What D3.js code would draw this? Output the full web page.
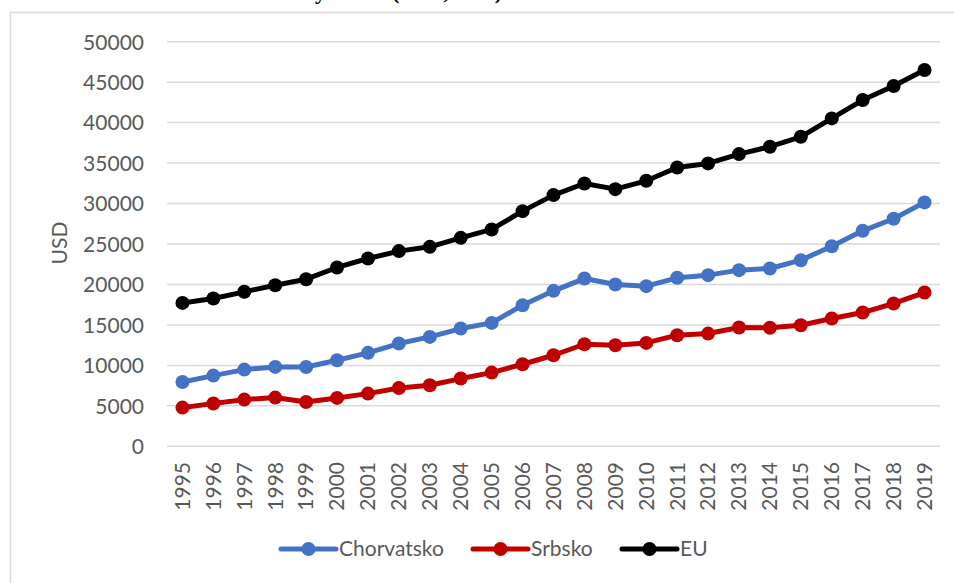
<!DOCTYPE html>
<html>
<head>
<meta charset="utf-8">
<script src="https://cdn.jsdelivr.net/npm/d3@7"></script>
<style>
  body { margin: 0; background: #fff; }
  svg { display: block; }
</style>
</head>
<body>
<div id="chart"></div>
<script>
// hodnoty odčítané z grafu (USD)
var years = ["1995","1996","1997","1998","1999","2000","2001","2002","2003","2004","2005","2006","2007",
             "2008","2009","2010","2011","2012","2013","2014","2015","2016","2017","2018","2019"];
var chorvatsko = [7950, 8740, 9480, 9810, 9800, 10640, 11550, 12700, 13520, 14550, 15250, 17440, 19210,
                  20730, 20000, 19790, 20820, 21150, 21770, 21970, 23000, 24730, 26630, 28120, 30140];
var srbsko = [4780, 5280, 5770, 6020, 5480, 5980, 6510, 7210, 7540, 8370, 9110, 10140, 11250,
              12610, 12490, 12780, 13730, 13930, 14680, 14650, 14960, 15790, 16530, 17650, 19000];
var eu = [17720, 18270, 19090, 19910, 20650, 22100, 23210, 24120, 24650, 25760, 26800, 29060, 31040,
          32480, 31780, 32810, 34460, 34960, 36110, 37020, 38250, 40520, 42790, 44520, 46500];
var yTicks = [0, 5000, 10000, 15000, 20000, 25000, 30000, 35000, 40000, 45000, 50000];

var series = [
  {name: "Chorvatsko", values: chorvatsko, color: "#4472C4"},
  {name: "Srbsko", values: srbsko, color: "#C00000"},
  {name: "EU", values: eu, color: "#000000"}
];

var width = 954, height = 583;
var margin = {left: 167, right: 14, top: 41.7, bottom: 137};

var svg = d3.select("#chart").append("svg")
    .attr("width", width)
    .attr("height", height)
    .attr("font-family", "Lato, 'Open Sans', sans-serif");

// zvyšok titulku nad grafom (orezaný)
svg.append("text")
    .attr("x", 502)
    .attr("y", -1)
    .attr("text-anchor", "end")
    .attr("font-family", "'Liberation Serif', serif")
    .attr("font-weight", "bold")
    .attr("font-size", 22)
    .text("HDP na obyvateľa (USD, PPP)");

// rám
svg.append("path")
    .attr("d", "M10.5," + height + "V12.5H" + width)
    .attr("fill", "none")
    .attr("stroke", "#D9D9D9")
    .attr("stroke-width", 1.5);

var x = d3.scaleBand()
    .domain(years)
    .range([margin.left, width - margin.right]);

var y = d3.scaleLinear()
    .domain([0, 50000])
    .range([height - margin.bottom + 0.3, margin.top]);

// mriežka
svg.append("g")
    .selectAll("line")
    .data(yTicks)
    .enter().append("line")
      .attr("x1", margin.left)
      .attr("x2", width - margin.right)
      .attr("y1", function(d) { return y(d); })
      .attr("y2", function(d) { return y(d); })
      .attr("stroke", "#D9D9D9")
      .attr("stroke-width", 1.5);

var yAxis = svg.append("g")
    .attr("transform", "translate(" + (margin.left - 23) + ",0)")
    .call(d3.axisLeft(y).tickValues(yTicks).tickSize(0).tickPadding(0).tickFormat(d3.format("d")));
yAxis.select(".domain").remove();
yAxis.selectAll("text")
    .attr("fill", "#595959")
    .attr("font-size", 21)
    .attr("font-family", "Lato, 'Open Sans', sans-serif")
    .attr("dy", "0.35em");

var xAxis = svg.append("g")
    .attr("transform", "translate(0," + (height - margin.bottom) + ")")
    .call(d3.axisBottom(x).tickSize(0).tickPadding(0));
xAxis.select(".domain").remove();
xAxis.selectAll("text")
    .attr("fill", "#595959")
    .attr("font-size", 21)
    .attr("font-family", "Lato, 'Open Sans', sans-serif")
    .attr("text-anchor", "end")
    .attr("transform", "translate(0,16) rotate(-90)")
    .attr("dx", 0)
    .attr("dy", "0.35em")
    .attr("y", 0)
    .attr("x", 0);

svg.append("text")
    .attr("transform", "translate(60,243) rotate(-90)")
    .attr("text-anchor", "middle")
    .attr("dy", "0.35em")
    .attr("fill", "#595959")
    .attr("font-size", 21)
    .text("USD");

var line = d3.line()
    .x(function(d, i) { return x(years[i]) + x.bandwidth() / 2; })
    .y(function(d) { return y(d); });

series.forEach(function(s) {
  var g = svg.append("g");
  g.append("path")
      .datum(s.values)
      .attr("d", line)
      .attr("fill", "none")
      .attr("stroke", s.color)
      .attr("stroke-width", 5)
      .attr("stroke-linejoin", "round");
  g.selectAll("circle")
      .data(s.values)
      .enter().append("circle")
        .attr("cx", function(d, i) { return x(years[i]) + x.bandwidth() / 2; })
        .attr("cy", function(d) { return y(d); })
        .attr("r", 7)
        .attr("fill", s.color);
});

// legenda
var legendX = [281, 473, 622];
var legend = svg.append("g")
    .attr("transform", "translate(0,549)");
var item = legend.selectAll("g")
    .data(series)
    .enter().append("g")
      .attr("transform", function(d, i) { return "translate(" + legendX[i] + ",0)"; });
item.append("line")
    .attr("x1", 0).attr("x2", 55)
    .attr("stroke", function(d) { return d.color; })
    .attr("stroke-width", 5)
    .attr("stroke-linecap", "round");
item.append("circle")
    .attr("cx", 27.5)
    .attr("r", 7)
    .attr("fill", function(d) { return d.color; });
item.append("text")
    .attr("x", 58)
    .attr("dy", "0.35em")
    .attr("fill", "#595959")
    .attr("font-size", 21)
    .text(function(d) { return d.name; });
</script>
</body>
</html>
